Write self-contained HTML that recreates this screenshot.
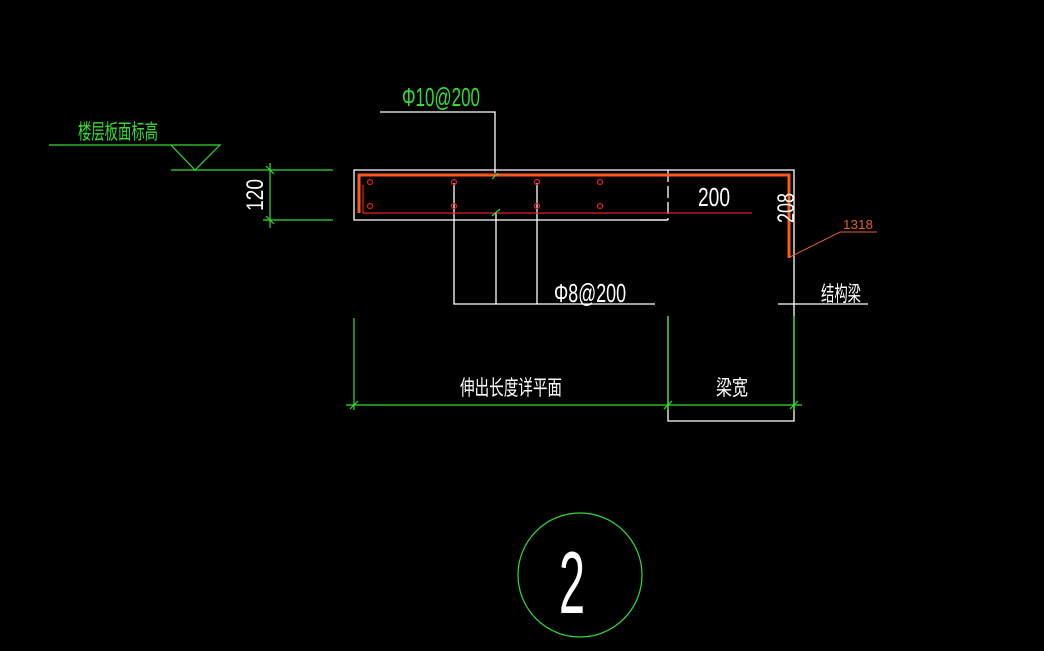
<!DOCTYPE html>
<html><head><meta charset="utf-8"><style>html,body{margin:0;background:#000;overflow:hidden}</style></head>
<body>
<svg width="1044" height="651" xmlns="http://www.w3.org/2000/svg" style="display:block;background:#000" font-family="Liberation Sans, Noto Sans CJK SC, sans-serif">
<g stroke="#fff" stroke-width="1.3" fill="none">
<polyline points="668,220 354,220 354,170 794,170 794,421 668,421 668,316"/>
<line x1="668" y1="170" x2="668" y2="220" stroke-dasharray="12,4"/>
<polyline points="380,112 495,112 495,173"/>
<polyline points="454,183 454,304 655,304"/>
<line x1="496" y1="213" x2="496" y2="304"/>
<line x1="537" y1="183" x2="537" y2="304"/>
<line x1="778" y1="304" x2="868" y2="304"/>
<line x1="640" y1="220" x2="668" y2="220"/>
</g>
<g stroke="#ff5a1e" stroke-width="3" fill="none">
<polyline points="359,213 359,175 789,175 789,258"/>
</g>
<g stroke="#e02020" stroke-width="1.2" fill="none">
<polyline points="363,185 363,213 752,213"/>
<circle cx="370" cy="182" r="2.5"/><circle cx="454" cy="182" r="2.5"/><circle cx="537" cy="182" r="2.5"/><circle cx="600" cy="182" r="2.5"/>
<circle cx="370" cy="206" r="2.5"/><circle cx="454" cy="206" r="2.5"/><circle cx="537" cy="206" r="2.5"/><circle cx="600" cy="206" r="2.5"/>
</g>
<polyline points="790,257 840,232 877,232" stroke="#e0602a" stroke-width="1" fill="none"/>
<g stroke="#33dd33" stroke-width="1.2" fill="none">
<line x1="49" y1="145" x2="221" y2="145"/>
<polyline points="171,145 195,170 220,145"/>
<line x1="171" y1="170" x2="333" y2="170"/>
<line x1="263" y1="220" x2="333" y2="220"/>
<line x1="270" y1="163" x2="270" y2="228"/>
<line x1="266" y1="166" x2="274" y2="174"/><line x1="266" y1="216" x2="274" y2="224"/>
<line x1="354" y1="318" x2="354" y2="410"/>
<line x1="668" y1="316" x2="668" y2="410"/>
<line x1="794" y1="316" x2="794" y2="410"/>
<line x1="346" y1="405" x2="802" y2="405"/>
<line x1="350" y1="409" x2="358" y2="401"/><line x1="664" y1="409" x2="672" y2="401"/><line x1="790" y1="409" x2="798" y2="401"/>
<line x1="492" y1="179" x2="498" y2="173"/><line x1="492" y1="216" x2="500" y2="209"/>
<circle cx="580" cy="575" r="62"/>
</g>
<g fill="#33dd33">
<text x="402" y="106" font-size="26" textLength="78" lengthAdjust="spacingAndGlyphs">Φ10@200</text>
<text x="78" y="139" textLength="80" lengthAdjust="spacingAndGlyphs" font-size="21">楼层板面标高</text>
</g>
<g fill="#fff">
<text x="554" y="302" font-size="26" textLength="72" lengthAdjust="spacingAndGlyphs">Φ8@200</text>
<text x="698" y="206" textLength="32" lengthAdjust="spacingAndGlyphs" font-size="26">200</text>
<text transform="translate(794,208) rotate(-90)" text-anchor="middle" font-size="24" textLength="30" lengthAdjust="spacingAndGlyphs">208</text>
<text transform="translate(263,195) rotate(-90)" text-anchor="middle" font-size="24" textLength="32" lengthAdjust="spacingAndGlyphs">120</text>
<text x="460" y="395" textLength="102" lengthAdjust="spacingAndGlyphs" font-size="21">伸出长度详平面</text>
<text x="716" y="395" textLength="32" lengthAdjust="spacingAndGlyphs" font-size="21">梁宽</text>
<text x="821" y="301" textLength="40" lengthAdjust="spacingAndGlyphs" font-size="21">结构梁</text>
<text x="559" y="613" font-size="88" textLength="26" lengthAdjust="spacingAndGlyphs">2</text>
</g>
<text x="843" y="229" font-size="13" fill="#e0602a" textLength="30" lengthAdjust="spacingAndGlyphs">1318</text>
</svg>
</body></html>
